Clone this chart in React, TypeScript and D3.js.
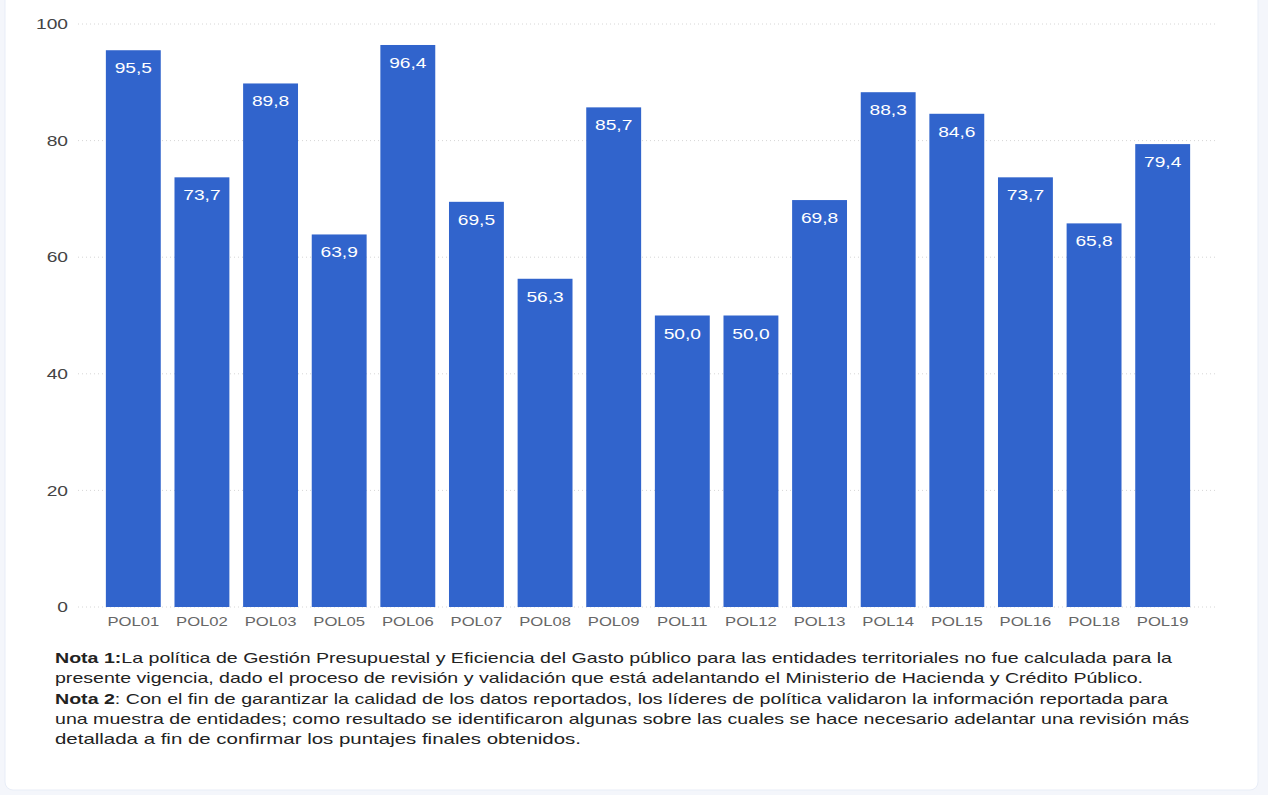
import React, { useEffect, useRef } from 'react'
import * as d3 from 'd3'

const categories = ['POL01', 'POL02', 'POL03', 'POL05', 'POL06', 'POL07', 'POL08', 'POL09', 'POL11', 'POL12', 'POL13', 'POL14', 'POL15', 'POL16', 'POL18', 'POL19']
const scores = [95.5, 73.7, 89.8, 63.9, 96.4, 69.5, 56.3, 85.7, 50.0, 50.0, 69.8, 88.3, 84.6, 73.7, 65.8, 79.4]
const yTicks = [0, 20, 40, 60, 80, 100]

const noteLines: { bold?: string; text: string }[] = [
  { bold: 'Nota 1:', text: 'La política de Gestión Presupuestal y Eficiencia del Gasto público para las entidades territoriales no fue calculada para la' },
  { text: 'presente vigencia, dado el proceso de revisión y validación que está adelantando el Ministerio de Hacienda y Crédito Público.' },
  { bold: 'Nota 2', text: ': Con el fin de garantizar la calidad de los datos reportados, los líderes de política validaron la información reportada para' },
  { text: 'una muestra de entidades; como resultado se identificaron algunas sobre las cuales se hace necesario adelantar una revisión más' },
  { text: 'detallada a fin de confirmar los puntajes finales obtenidos.' }
]
// right end of each note line as it sits in the reference
const noteLineEnds = [1172, 1143, 1168, 1189, 581]

// the source picture is stretched sideways, so text is too
const stretch = 1.28

const App: React.FC = () => {
  const svgRef = useRef<SVGSVGElement | null>(null)

  useEffect(() => {
    document.body.style.margin = '0'
    if (!svgRef.current) {
      return
    }

    const width = 1268
    const height = 795
    const svg = d3.select(svgRef.current)
    svg.attr('viewBox', `0 0 ${width} ${height}`)
    svg.selectAll('*').remove()

    svg.append('rect').attr('width', width).attr('height', height).attr('fill', '#f4f6fb')
    svg
      .append('rect')
      .attr('x', 5)
      .attr('y', -10)
      .attr('width', 1253)
      .attr('height', 800)
      .attr('rx', 8)
      .attr('fill', '#ffffff')
      .attr('stroke', '#e8edf7')

    const font = 'Arial, "Liberation Sans", sans-serif'

    const xScale = d3.scaleBand().domain(categories).range([99, 1197]).paddingInner(0.2).paddingOuter(0.1)
    const yScale = d3.scaleLinear().domain([0, 100]).range([607, 24])

    const grid = svg.append('g')
    grid
      .selectAll('line')
      .data(yTicks)
      .enter()
      .append('line')
      .attr('x1', 78)
      .attr('x2', 1215)
      .attr('y1', (d) => yScale(d))
      .attr('y2', (d) => yScale(d))
      .attr('stroke', '#d6d6d6')
      .attr('stroke-dasharray', '1,3')

    grid
      .selectAll('text')
      .data(yTicks)
      .enter()
      .append('text')
      .attr('transform', (d) => `translate(68,${yScale(d)}) scale(${stretch},1)`)
      .attr('dy', '0.35em')
      .attr('text-anchor', 'end')
      .attr('font-family', font)
      .attr('font-size', 15)
      .attr('fill', '#444444')
      .text((d) => String(d))

    const bars = svg.append('g')
    bars
      .selectAll('rect')
      .data(scores)
      .enter()
      .append('rect')
      .attr('x', (_, i) => xScale(categories[i]) ?? 0)
      .attr('y', (d) => yScale(d))
      .attr('width', xScale.bandwidth())
      .attr('height', (d) => yScale(0) - yScale(d))
      .attr('fill', '#3164cc')

    bars
      .selectAll('text')
      .data(scores)
      .enter()
      .append('text')
      .attr(
        'transform',
        (d, i) => `translate(${(xScale(categories[i]) ?? 0) + xScale.bandwidth() / 2},${yScale(d) + 23}) scale(${stretch},1)`
      )
      .attr('text-anchor', 'middle')
      .attr('font-family', font)
      .attr('font-size', 15)
      .attr('fill', '#ffffff')
      .text((d) => d.toFixed(1).replace('.', ','))

    svg
      .append('g')
      .selectAll('text')
      .data(categories)
      .enter()
      .append('text')
      .attr('transform', (d) => `translate(${(xScale(d) ?? 0) + xScale.bandwidth() / 2},626) scale(${stretch},1)`)
      .attr('text-anchor', 'middle')
      .attr('font-family', font)
      .attr('font-size', 13)
      .attr('fill', '#666666')
      .text((d) => d)

    const notes = svg.append('g')
    noteLines.forEach((line, i) => {
      const t = notes
        .append('text')
        .attr('x', 55)
        .attr('y', 663 + i * 20 + (i >= 2 ? 1 : 0))
        .attr('font-family', font)
        .attr('font-size', 15)
        .attr('fill', '#222222')
        .attr('textLength', noteLineEnds[i] - 55)
        .attr('lengthAdjust', 'spacingAndGlyphs')
      if (line.bold) {
        t.append('tspan').attr('font-weight', 'bold').text(line.bold)
      }
      t.append('tspan').text(line.text)
    })
  }, [])

  return <svg ref={svgRef} width={1268} height={795} style={{ display: 'block' }} />
}

export default App
